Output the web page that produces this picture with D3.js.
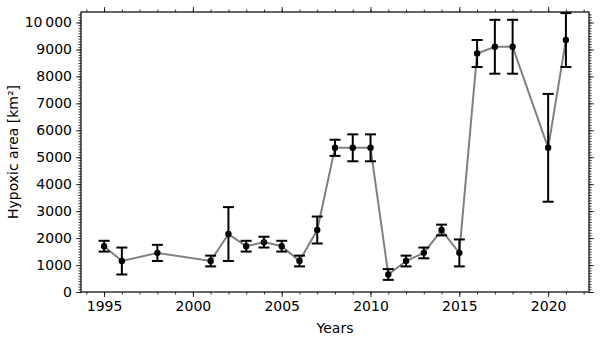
<!DOCTYPE html>
<html>
<head>
<meta charset="utf-8">
<script src="https://cdn.jsdelivr.net/npm/d3@7"></script>
<style>
  body { margin: 0; background: #fff; }
  text { font-family: "DejaVu Sans", sans-serif; fill: #000; }
</style>
</head>
<body>
<div id="chart"></div>
<script>
// data
var years  = [1995, 1996, 1998, 2001, 2002, 2003, 2004, 2005, 2006, 2007, 2008, 2009, 2010, 2011, 2012, 2013, 2014, 2015, 2016, 2017, 2018, 2020, 2021];
var areas  = [1700, 1150, 1450, 1150, 2150, 1700, 1850, 1700, 1150, 2300, 5350, 5350, 5350, 650, 1150, 1450, 2300, 1450, 8850, 9100, 9100, 5350, 9350];
var errors = [200, 500, 300, 200, 1000, 200, 200, 200, 200, 500, 300, 500, 500, 200, 200, 200, 200, 500, 500, 1000, 1000, 2000, 1000];
var xTicks = [1995, 2000, 2005, 2010, 2015, 2020];
var yTicks = [0, 1000, 2000, 3000, 4000, 5000, 6000, 7000, 8000, 9000, 10000];

var data = years.map(function(y, i) { return {year: y, area: areas[i], err: errors[i]}; });

// set the dimensions
var margin = {top: 12, right: 11, bottom: 47, left: 81},
width = 600 - margin.left - margin.right,
height = 339 - margin.top - margin.bottom;

var x = d3.scaleLinear().domain([1993.7, 2022.3]).range([0, width]);
var y = d3.scaleLinear().domain([0, 10390]).range([height, 0]);

var svg = d3.select("#chart").append("svg")
  .attr("width", 600)
  .attr("height", 339)
  .append("g")
  .attr("transform", "translate(" + margin.left + "," + margin.top + ")");

var fmt = function(d) { return d >= 10000 ? "10\u2009000" : String(d); };
var minorX = d3.range(1994, 2023);
var minorY = d3.range(0, 10400, 100);

// minor ticks first, then major ones on top
function ticksOn(g, axis) {
  g.call(axis);
  g.select(".domain").remove();
  g.selectAll("line").attr("stroke", "#000").attr("stroke-width", 0.8);
}

// bottom
svg.append("g").attr("transform", "translate(0," + height + ")")
  .call(ticksOn, d3.axisBottom(x).tickValues(minorX).tickSize(2.5).tickFormat(""));
svg.append("g").attr("transform", "translate(0," + height + ")")
  .call(ticksOn, d3.axisBottom(x).tickValues(xTicks).tickSize(5).tickPadding(4).tickFormat(d3.format("d")))
  .selectAll("text").style("font-size", "14px");
// top
svg.append("g")
  .call(ticksOn, d3.axisTop(x).tickValues(minorX).tickSize(2.5).tickFormat(""));
svg.append("g")
  .call(ticksOn, d3.axisTop(x).tickValues(xTicks).tickSize(5).tickFormat(""));
// left
svg.append("g")
  .call(ticksOn, d3.axisLeft(y).tickValues(minorY).tickSize(2.5).tickFormat(""));
svg.append("g")
  .call(ticksOn, d3.axisLeft(y).tickValues(yTicks).tickSize(5).tickPadding(4).tickFormat(fmt))
  .selectAll("text").style("font-size", "14px");
// right
svg.append("g").attr("transform", "translate(" + width + ",0)")
  .call(ticksOn, d3.axisRight(y).tickValues(minorY).tickSize(2.5).tickFormat(""));
svg.append("g").attr("transform", "translate(" + width + ",0)")
  .call(ticksOn, d3.axisRight(y).tickValues(yTicks).tickSize(5).tickFormat(""));

// frame
svg.append("rect")
  .attr("width", width).attr("height", height)
  .attr("fill", "none").attr("stroke", "#000").attr("stroke-width", 1.2);

// connecting line
var valueline = d3.line()
  .x(function(d) { return x(d.year); })
  .y(function(d) { return y(d.area); });

svg.append("path")
  .data([data])
  .attr("d", valueline)
  .attr("fill", "none")
  .attr("stroke", "#808080")
  .attr("stroke-width", 2);

// error bars
var eb = svg.selectAll(".eb").data(data).enter().append("g").attr("class", "eb")
  .attr("stroke", "#000").attr("stroke-width", 2);
eb.append("line")
  .attr("x1", function(d) { return x(d.year); })
  .attr("x2", function(d) { return x(d.year); })
  .attr("y1", function(d) { return y(d.area - d.err); })
  .attr("y2", function(d) { return y(d.area + d.err); });
eb.append("line")
  .attr("x1", function(d) { return x(d.year) - 5.5; })
  .attr("x2", function(d) { return x(d.year) + 5.5; })
  .attr("y1", function(d) { return y(d.area + d.err); })
  .attr("y2", function(d) { return y(d.area + d.err); });
eb.append("line")
  .attr("x1", function(d) { return x(d.year) - 5.5; })
  .attr("x2", function(d) { return x(d.year) + 5.5; })
  .attr("y1", function(d) { return y(d.area - d.err); })
  .attr("y2", function(d) { return y(d.area - d.err); });

// points
svg.selectAll("circle")
  .data(data)
  .enter()
  .append("circle")
  .attr("cx", function(d) { return x(d.year); })
  .attr("cy", function(d) { return y(d.area); })
  .attr("r", 3.2)
  .attr("fill", "#000");

// axis labels
svg.append("text")
  .attr("x", width / 2)
  .attr("y", height + 41)
  .style("font-size", "14px")
  .style("text-anchor", "middle")
  .text("Years");

svg.append("text")
  .attr("transform", "rotate(-90)")
  .attr("x", -height / 2)
  .attr("y", -63)
  .style("font-size", "14px")
  .style("text-anchor", "middle")
  .text("Hypoxic area [km\u00b2]");
</script>
</body>
</html>
